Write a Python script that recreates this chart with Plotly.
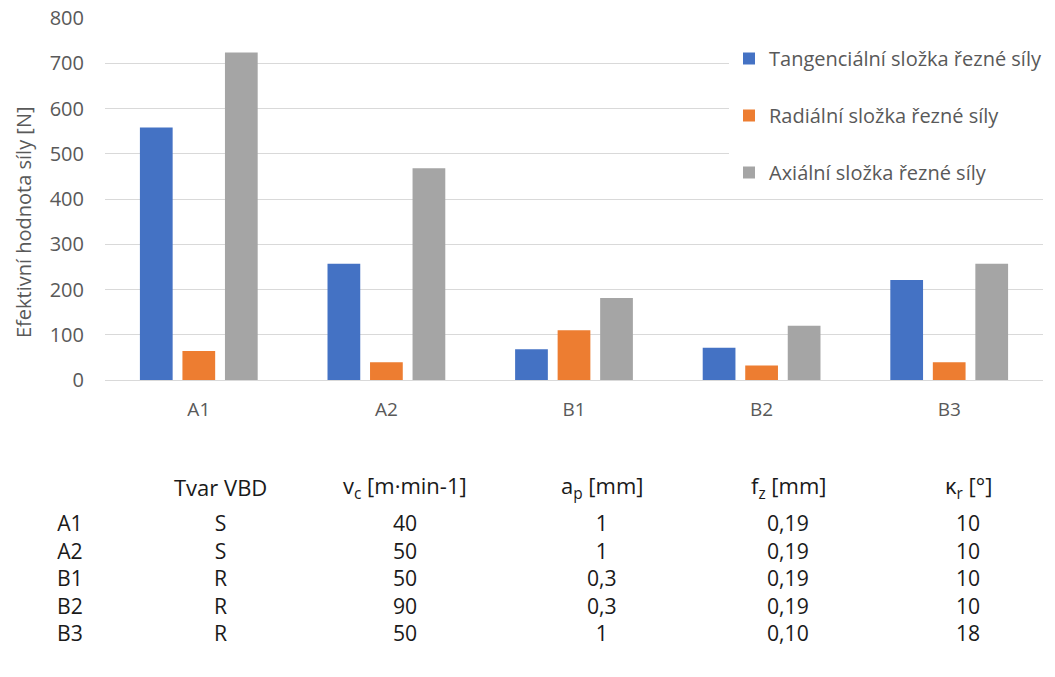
import plotly.graph_objects as go

categories = ["A1", "A2", "B1", "B2", "B3"]
tangencialni = [558, 257, 68, 71, 221]
radialni = [64, 39, 110, 32, 39]
axialni = [724, 468, 181, 120, 257]
series_names = ["Tangenciální složka řezné síly", "Radiální složka řezné síly", "Axiální složka řezné síly"]
colors = ["#4472C4", "#ED7D31", "#A5A5A5"]

table_header = ["", "Tvar VBD", "v<sub>c</sub> [m·min-1]", "a<sub>p</sub> [mm]", "f<sub>z</sub> [mm]", "κ<sub>r</sub> [°]"]
tvar_vbd = ["S", "S", "R", "R", "R"]
vc = ["40", "50", "50", "90", "50"]
ap = ["1", "1", "0,3", "0,3", "1"]
fz = ["0,19", "0,19", "0,19", "0,19", "0,10"]
kr = ["10", "10", "10", "10", "18"]
y_title = "Efektivní hodnota síly [N]"

W, H = 1055, 677
PX0, PX1, PY0, PY1 = 105, 1043, 18, 380
L = PX0
R = W - PX1
T = PY0
B = H - PY1
pw = PX1 - PX0
ph = PY1 - PY0

def px_x(x):
    return (x - PX0) / pw

def px_y(y):
    return (PY1 - y) / ph

fig = go.Figure()
for name, vals, col in zip(series_names, [tangencialni, radialni, axialni], colors):
    fig.add_trace(go.Bar(x=categories, y=vals, name=name, marker=dict(color=col, line=dict(width=0)),
                         legendgroup=name))

font_chart = "Open Sans"
gray = "#595959"

fig.update_layout(
    width=W, height=H,
    margin=dict(l=L, r=R, t=T, b=B, autoexpand=False),
    paper_bgcolor="white", plot_bgcolor="white",
    barmode="group", bargap=0.32, bargroupgap=0.23,
    font=dict(family=font_chart, size=20, color=gray),
    legend=dict(x=px_x(729), y=px_y(39), xanchor="left", yanchor="top",
                bgcolor="white", tracegroupgap=28, font=dict(size=20, color=gray),
                itemwidth=30),
    showlegend=True,
)
fig.update_xaxes(showgrid=False, showline=False, ticks="", ticklabelstandoff=16,
                 tickfont=dict(size=19, color=gray))
fig.update_yaxes(range=[0, 800], dtick=100, showgrid=True, gridcolor="#D9D9D9", gridwidth=1,
                 zeroline=True, zerolinecolor="#D9D9D9", zerolinewidth=1, showline=False,
                 ticks="", ticklabelstandoff=20,
                 tickfont=dict(size=20, color=gray))

fig.add_annotation(x=px_x(23), y=px_y(222), xref="paper", yref="paper", text=y_title,
                   textangle=-90, showarrow=False, xanchor="center", yanchor="middle",
                   font=dict(family=font_chart, size=20, color=gray))

col_x = [70, 220, 405, 602, 788, 968]
header_y = 487
rows_center_y = 577
tfont_head = dict(family="Open Sans", size=22, color="#1a1a1a")
tfont_rows = dict(family="Open Sans", size=21.2, color="#1a1a1a")

for cx, txt in zip(col_x, table_header):
    if txt:
        fig.add_annotation(x=px_x(cx), y=px_y(header_y), xref="paper", yref="paper", text=txt,
                           showarrow=False, xanchor="center", yanchor="middle", font=tfont_head)
columns = [categories, tvar_vbd, vc, ap, fz, kr]
for cx, col in zip(col_x, columns):
    fig.add_annotation(x=px_x(cx), y=px_y(rows_center_y), xref="paper", yref="paper",
                       text="<br>".join(col), align="center",
                       showarrow=False, xanchor="center", yanchor="middle", font=tfont_rows)

fig.write_html("out.html", config={"displayModeBar": False},
               post_script="document.body.style.margin='0';")
